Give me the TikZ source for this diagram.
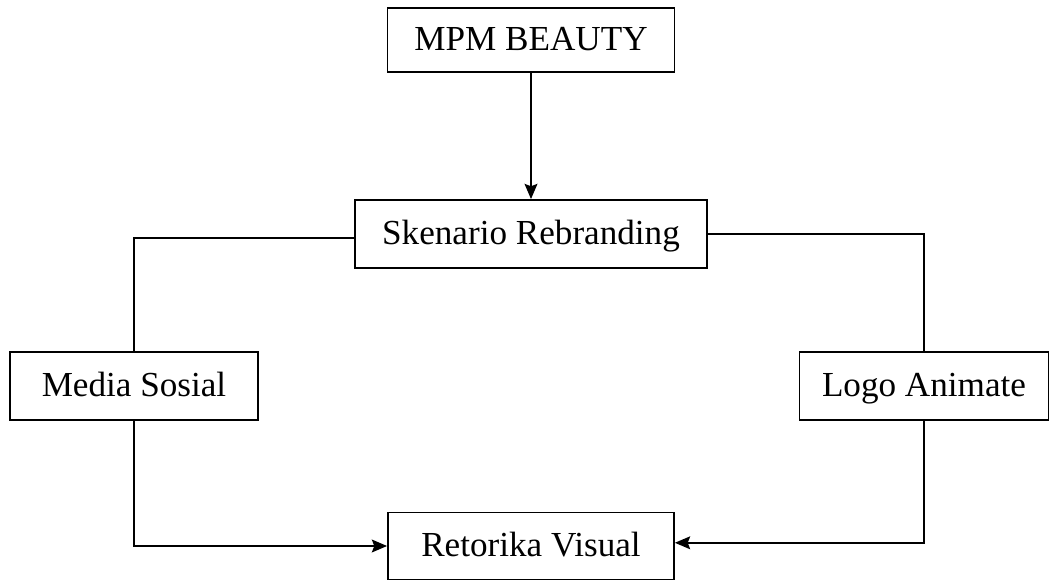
\documentclass[tikz,border=0pt]{standalone}
\usepackage{fontspec}
\setmainfont{Liberation Serif}
\usetikzlibrary{arrows.meta}

\begin{document}
\begin{tikzpicture}[>={Stealth[length=0.38cm,width=0.32cm,inset=0.06cm]},line width=1.3pt,node distance=3cm,
    box node/.style={draw,rectangle,minimum height=1.7cm,inner sep=0pt,text height=18pt,text depth=3pt,font=\fontsize{25}{30}\selectfont}]
                \useasboundingbox (0,0) rectangle (26.225,-14.55);
                \node[box node,minimum width=7.175cm,minimum height=1.6cm] (mpm) at (13.275,-1.0) {MPM BEAUTY};
                \node[box node,minimum width=8.8cm] (sken) [below of=mpm,node distance=4.85cm] {Skenario Rebranding};
                \node[box node,minimum width=6.2cm] (media) at (3.35,-9.65) {Media Sosial};
                \node[box node,minimum width=6.225cm] (logo) at (23.1,-9.65) {Logo Animate};
                \node[box node,minimum width=7.15cm,minimum height=1.675cm] (reto) [below of=sken,node distance=7.8cm] {Retorika Visual};

                \draw[->] (mpm) -- (sken);
                \draw ([yshift=-0.1cm]sken.west) -| (media.north);
                \draw (sken.east) -| (logo.north);
                \draw[->] (media.south) |- (reto.west);
                \draw[->] (logo.south) |- ([yshift=0.08cm]reto.east);
\end{tikzpicture}
\end{document}
